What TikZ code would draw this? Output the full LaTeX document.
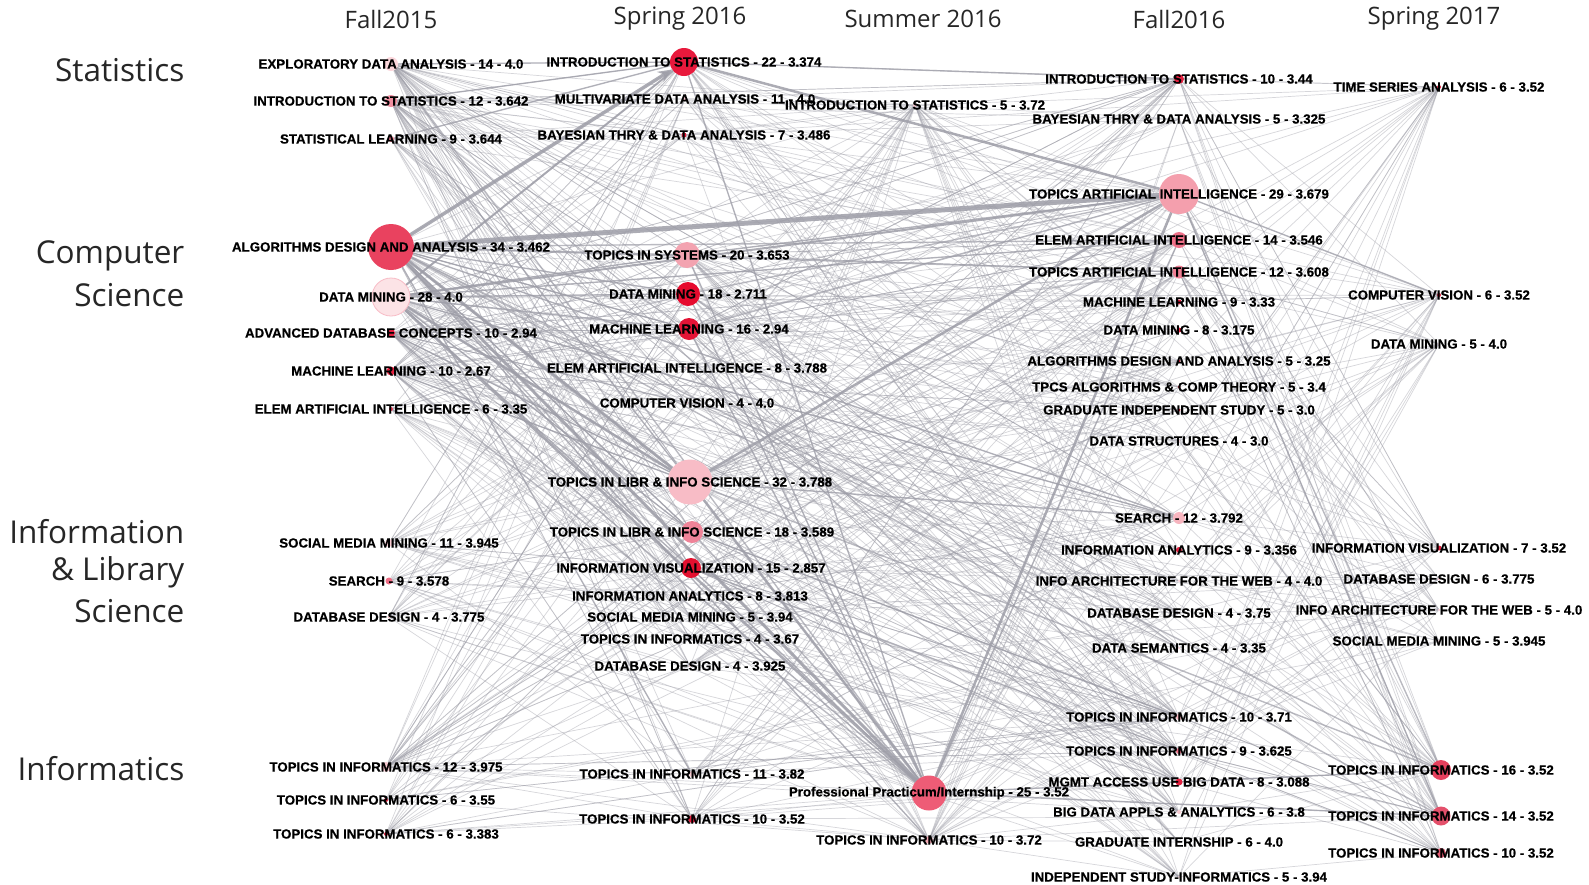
\documentclass[tikz,border=0pt]{standalone}
\usepackage{fontspec}
\setmainfont{Liberation Sans}
\newfontfamily\labfont[BoldFeatures={FakeBold=0.5}]{Liberation Sans}
\newfontfamily\headfont{Open Sans}
\usetikzlibrary{arrows.meta}
\pgfdeclarelayer{back}
\pgfdeclarelayer{bg}
\pgfsetlayers{back,bg,main}
\definecolor{eg}{RGB}{158,158,168}
\definecolor{cAa}{HTML}{FBD6DB}
\definecolor{cAb}{HTML}{F08FA1}
\definecolor{cAc}{HTML}{EE7A8F}
\definecolor{cAd}{HTML}{E9425F}
\definecolor{cAe}{HTML}{FCE3E6}
\definecolor{cR}{HTML}{E2203F}
\definecolor{cRb}{HTML}{E8405A}
\definecolor{cL}{HTML}{F7C9D0}
\definecolor{cP}{HTML}{EE6E86}
\definecolor{cBa}{HTML}{E8193C}
\definecolor{cBd}{HTML}{F3A3B0}
\definecolor{cBe}{HTML}{E60B2E}
\definecolor{cBf}{HTML}{E31436}
\definecolor{cBi}{HTML}{F8BCC6}
\definecolor{cBj}{HTML}{EF8398}
\definecolor{cBk}{HTML}{E3102F}
\definecolor{cCb}{HTML}{EE5C76}
\definecolor{cCc}{HTML}{F3A8B4}
\definecolor{cDc}{HTML}{F49FAD}
\definecolor{cDd}{HTML}{EE7088}
\definecolor{cDe}{HTML}{F07E93}
\definecolor{cDl}{HTML}{F7B5BF}
\definecolor{cEh}{HTML}{E6405D}
\definecolor{cEi}{HTML}{E4506B}
\definecolor{cEj}{HTML}{E55A73}
\tikzset{
  dot/.style={circle,inner sep=0pt,outer sep=0pt},
  lab/.style={inner sep=0pt,font=\labfont\bfseries\fontsize{13.3}{15}\selectfont,text=black},
  hd/.style={inner sep=0pt,font=\headfont\fontsize{24}{28}\selectfont,text=black!85},
  rw/.style={inner sep=0pt,anchor=east,font=\headfont\fontsize{31.5}{34}\selectfont,text=black!85},
  ln/.style={draw=eg,line width=0.7pt,opacity=0.42},
  med/.style={draw=eg,line width=1.4pt,opacity=0.7},
  thk/.style={draw=eg,line width=#1,opacity=0.85},
}
\newcommand\crs[5]{\node[dot,minimum size=#4pt,fill=#5] (#1) at (#2,#3) {};}
\newcommand\lbl[2]{\node[lab] (#1-t) at (#1) {#2};}
\newcommand\mesh[3]{\foreach \u in #1{\foreach \v in #2{\pgfmathparse{rnd}\ifdim\pgfmathresult pt<#3pt\relax\draw[ln] (\u)--(\v);\fi}}}
\def\LF{a1,a2,a3,a4,a5,a6,a7,a8,a9,a10,a11,a12,a13,a14}
\def\LS{b1,b2,b3,b4,b5,b6,b7,b8,b9,b10,b11,b12,b13,b14,b15,b16,b17}
\def\LU{c1,c2,c3}
\def\LD{d1,d2,d3,d4,d5,d6,d7,d8,d9,d10,d11,d12,d13,d14,d15,d16,d17,d18,d19,d20,d21,d22}
\def\LE{e1,e2,e3,e4,e5,e6,e7,e8,e9,e10}
\def\BF{a1,a2,a4,a5,a6,a7,a12}
\def\BS{b1,b4,b5,b6,b9,b10,b11}
\def\BD{d1,d3,d4,d5,d12,d17,d18,d19}
\def\BE{e1,e2,e8,e9,e10}
\begin{document}
\begin{tikzpicture}[x=1pt,y=-1pt]
\useasboundingbox (0,0) rectangle (1589,884);
\begin{pgfonlayer}{back}
\fill[white] (0,0) rectangle (1589,884);
\end{pgfonlayer}
% headers
\node[hd] (h1) at (391,19) {Fall2015};
\node[hd] (h2) at (680,19) {Spring 2016};
\node[hd] (h3) at (923,19) {Summer 2016};
\node[hd] (h4) at (1179,19) {Fall2016};
\node[hd] (h5) at (1434,19) {Spring 2017};
% row labels
\node[rw] (r1) at (184.5,70) {Statistics};
\node[rw] (r2) at (184.5,256) {Computer};
\node[rw] (r3) at (184.5,295) {Science};
\node[rw] (r4) at (184.5,532) {Information};
\node[rw] (r5) at (184.5,572) {\& Library};
\node[rw] (r6) at (184.5,611) {Science};
\node[rw] (r7) at (184.5,769) {Informatics};
% Fall 2015
\crs{a1}{391}{64}{14}{cAa}
\crs{a2}{391}{101}{12}{cAb}
\crs{a3}{391}{139}{6}{cAc}
\crs{a4}{391}{247}{46}{cAd}
\node[dot,minimum size=38pt,fill=cAe,draw=cBi,line width=0.8pt] (a5) at (391,297) {};
\crs{a6}{391}{333}{8}{cR}
\crs{a7}{391}{371}{9}{cR}
\crs{a8}{391}{409}{4}{cRb}
\crs{a9}{389}{543}{8}{cL}
\crs{a10}{389}{581}{7}{cP}
\crs{a11}{389}{617}{3}{cL}
\crs{a12}{386}{767}{10}{cL}
\crs{a13}{386}{800}{4}{cR}
\crs{a14}{386}{834}{4}{cR}
% Spring 2016
\crs{b1}{684}{62}{28}{cBa}
\crs{b2}{685}{99}{4}{cL}
\crs{b3}{684}{135}{5}{cR}
\crs{b4}{687}{255}{26}{cBd}
\crs{b5}{688}{294}{24}{cBe}
\crs{b6}{689}{329}{22}{cBf}
\crs{b7}{687}{368}{3}{cL}
\crs{b8}{687}{403}{2}{cL}
\crs{b9}{690}{482}{45}{cBi}
\crs{b10}{692}{532}{22}{cBj}
\crs{b11}{691}{568}{20}{cBk}
\crs{b12}{690}{596}{4}{cL}
\crs{b13}{690}{617}{2}{cL}
\crs{b14}{690}{639}{2}{cL}
\crs{b15}{690}{666}{2}{cL}
\crs{b16}{692}{774}{6}{cL}
\crs{b17}{692}{819}{8}{cR}
% Summer 2016
\crs{c1}{915}{105}{4}{cL}
\crs{c2}{929}{793}{35}{cCb}
\crs{c3}{929}{840}{8}{cCc}
% Fall 2016
\crs{d1}{1179}{79}{10}{cR}
\crs{d2}{1179}{119}{3}{cL}
\crs{d3}{1179}{194}{40}{cDc}
\crs{d4}{1179}{240}{16}{cDd}
\crs{d5}{1179}{272}{13}{cDe}
\crs{d6}{1179}{302}{5}{cR}
\crs{d7}{1179}{330}{5}{cR}
\crs{d8}{1179}{361}{3}{cR}
\crs{d9}{1179}{387}{3}{cR}
\crs{d10}{1179}{410}{3}{cR}
\crs{d11}{1179}{441}{2}{cL}
\crs{d12}{1179}{518}{12}{cDl}
\crs{d13}{1179}{550}{6}{cR}
\crs{d14}{1179}{581}{2}{cL}
\crs{d15}{1179}{613}{2}{cL}
\crs{d16}{1179}{648}{2}{cL}
\crs{d17}{1179}{717}{6}{cDl}
\crs{d18}{1179}{751}{6}{cP}
\crs{d19}{1179}{782}{7}{cR}
\crs{d20}{1179}{812}{4}{cL}
\crs{d21}{1179}{842}{2}{cL}
\crs{d22}{1179}{877}{2}{cL}
% Spring 2017
\crs{e1}{1439}{87}{4}{cR}
\crs{e2}{1439}{295}{4}{cR}
\crs{e3}{1439}{344}{2}{cL}
\crs{e4}{1439}{548}{5}{cR}
\crs{e5}{1439}{579}{3}{cL}
\crs{e6}{1439}{610}{2}{cL}
\crs{e7}{1439}{641}{2}{cL}
\crs{e8}{1441}{770}{20}{cEh}
\crs{e9}{1441}{816}{19}{cEi}
\crs{e10}{1441}{853}{10}{cEj}
% edges
\begin{pgfonlayer}{bg}
\pgfmathsetseed{4242}
\mesh\LF\LS{0.4}
\mesh\BF\LS{0.55}
\mesh\LF\BS{0.45}
\mesh\LF\LU{0.6}
\mesh\LF\LD{0.15}
\mesh\BF\LD{0.35}
\mesh\LF\BD{0.3}
\mesh\LF\LE{0.08}
\mesh\LS\LU{0.6}
\mesh\LS\LD{0.22}
\mesh\BS\LD{0.35}
\mesh\LS\BD{0.3}
\mesh\LS\LE{0.15}
\mesh\BS\BE{0.4}
\mesh\LU\LD{0.5}
\mesh\LU\LE{0.6}
\mesh\LD\LE{0.25}
\mesh\BD\LE{0.4}
\mesh\LD\BE{0.35}
\foreach \u/\v in {a4/b4,a4/b5,a4/b6,a4/b10,a4/b11,a4/d4,a4/d5,a4/e8,a4/e9,a4/b16,a4/c3,
  a5/b4,a5/b5,a5/b6,a5/b10,a5/d4,a5/b11,a6/b9,a7/b9,a6/c2,a7/c2,a2/b1,a1/b1,a3/b1,
  b10/c2,b11/c2,b4/c2,b5/c2,b6/c2,b4/d3,b5/d3,b6/d3,c2/d4,c2/e8,c2/e9,b9/d12,
  d3/e8,d3/e9,d3/e2,b1/d1,b9/e8,b10/d17,b11/d18,a4/d12,a5/d12,b1/c2,a2/b9,a1/c2,b9/d4}
  {\draw[med] (\u)--(\v);}
\draw[thk=5pt] (a4)--(d3);
\draw[thk=3.5pt,-{Stealth[length=14pt,width=12pt]}] (a4)--(b1);
\draw[thk=3pt] (a4)--(b9);
\draw[thk=3pt] (a4)--(c2);
\draw[thk=2.5pt] (a5)--(b9);
\draw[thk=2.5pt] (a5)--(c2);
\draw[thk=2pt] (a5)--(b1);
\draw[thk=2pt] (a5)--(d3);
\draw[thk=2.5pt] (b9)--(c2);
\draw[thk=2.5pt] (b1)--(d3);
\draw[thk=2.5pt] (b9)--(d3);
\draw[thk=2.5pt] (c2)--(d3);
\end{pgfonlayer}
% labels
\lbl{a1}{EXPLORATORY DATA ANALYSIS - 14 - 4.0}
\lbl{a2}{INTRODUCTION TO STATISTICS - 12 - 3.642}
\lbl{a3}{STATISTICAL LEARNING - 9 - 3.644}
\lbl{a4}{ALGORITHMS DESIGN AND ANALYSIS - 34 - 3.462}
\lbl{a5}{DATA MINING - 28 - 4.0}
\lbl{a6}{ADVANCED DATABASE CONCEPTS - 10 - 2.94}
\lbl{a7}{MACHINE LEARNING - 10 - 2.67}
\lbl{a8}{ELEM ARTIFICIAL INTELLIGENCE - 6 - 3.35}
\lbl{a9}{SOCIAL MEDIA MINING - 11 - 3.945}
\lbl{a10}{SEARCH - 9 - 3.578}
\lbl{a11}{DATABASE DESIGN - 4 - 3.775}
\lbl{a12}{TOPICS IN INFORMATICS - 12 - 3.975}
\lbl{a13}{TOPICS IN INFORMATICS - 6 - 3.55}
\lbl{a14}{TOPICS IN INFORMATICS - 6 - 3.383}
\lbl{b1}{INTRODUCTION TO STATISTICS - 22 - 3.374}
\lbl{b2}{MULTIVARIATE DATA ANALYSIS - 11 - 4.0}
\lbl{b3}{BAYESIAN THRY \& DATA ANALYSIS - 7 - 3.486}
\lbl{b4}{TOPICS IN SYSTEMS - 20 - 3.653}
\lbl{b5}{DATA MINING - 18 - 2.711}
\lbl{b6}{MACHINE LEARNING - 16 - 2.94}
\lbl{b7}{ELEM ARTIFICIAL INTELLIGENCE - 8 - 3.788}
\lbl{b8}{COMPUTER VISION - 4 - 4.0}
\lbl{b9}{TOPICS IN LIBR \& INFO SCIENCE - 32 - 3.788}
\lbl{b10}{TOPICS IN LIBR \& INFO SCIENCE - 18 - 3.589}
\lbl{b11}{INFORMATION VISUALIZATION - 15 - 2.857}
\lbl{b12}{INFORMATION ANALYTICS - 8 - 3.813}
\lbl{b13}{SOCIAL MEDIA MINING - 5 - 3.94}
\lbl{b14}{TOPICS IN INFORMATICS - 4 - 3.67}
\lbl{b15}{DATABASE DESIGN - 4 - 3.925}
\lbl{b16}{TOPICS IN INFORMATICS - 11 - 3.82}
\lbl{b17}{TOPICS IN INFORMATICS - 10 - 3.52}
\lbl{c1}{INTRODUCTION TO STATISTICS - 5 - 3.72}
\lbl{c2}{Professional Practicum/Internship - 25 - 3.52}
\lbl{c3}{TOPICS IN INFORMATICS - 10 - 3.72}
\lbl{d1}{INTRODUCTION TO STATISTICS - 10 - 3.44}
\lbl{d2}{BAYESIAN THRY \& DATA ANALYSIS - 5 - 3.325}
\lbl{d3}{TOPICS ARTIFICIAL INTELLIGENCE - 29 - 3.679}
\lbl{d4}{ELEM ARTIFICIAL INTELLIGENCE - 14 - 3.546}
\lbl{d5}{TOPICS ARTIFICIAL INTELLIGENCE - 12 - 3.608}
\lbl{d6}{MACHINE LEARNING - 9 - 3.33}
\lbl{d7}{DATA MINING - 8 - 3.175}
\lbl{d8}{ALGORITHMS DESIGN AND ANALYSIS - 5 - 3.25}
\lbl{d9}{TPCS ALGORITHMS \& COMP THEORY - 5 - 3.4}
\lbl{d10}{GRADUATE INDEPENDENT STUDY - 5 - 3.0}
\lbl{d11}{DATA STRUCTURES - 4 - 3.0}
\lbl{d12}{SEARCH - 12 - 3.792}
\lbl{d13}{INFORMATION ANALYTICS - 9 - 3.356}
\lbl{d14}{INFO ARCHITECTURE FOR THE WEB - 4 - 4.0}
\lbl{d15}{DATABASE DESIGN - 4 - 3.75}
\lbl{d16}{DATA SEMANTICS - 4 - 3.35}
\lbl{d17}{TOPICS IN INFORMATICS - 10 - 3.71}
\lbl{d18}{TOPICS IN INFORMATICS - 9 - 3.625}
\lbl{d19}{MGMT ACCESS USE BIG DATA - 8 - 3.088}
\lbl{d20}{BIG DATA APPLS \& ANALYTICS - 6 - 3.8}
\lbl{d21}{GRADUATE INTERNSHIP - 6 - 4.0}
\lbl{d22}{INDEPENDENT STUDY-INFORMATICS - 5 - 3.94}
\lbl{e1}{TIME SERIES ANALYSIS - 6 - 3.52}
\lbl{e2}{COMPUTER VISION - 6 - 3.52}
\lbl{e3}{DATA MINING - 5 - 4.0}
\lbl{e4}{INFORMATION VISUALIZATION - 7 - 3.52}
\lbl{e5}{DATABASE DESIGN - 6 - 3.775}
\lbl{e6}{INFO ARCHITECTURE FOR THE WEB - 5 - 4.0}
\lbl{e7}{SOCIAL MEDIA MINING - 5 - 3.945}
\lbl{e8}{TOPICS IN INFORMATICS - 16 - 3.52}
\lbl{e9}{TOPICS IN INFORMATICS - 14 - 3.52}
\lbl{e10}{TOPICS IN INFORMATICS - 10 - 3.52}
\end{tikzpicture}
\end{document}
